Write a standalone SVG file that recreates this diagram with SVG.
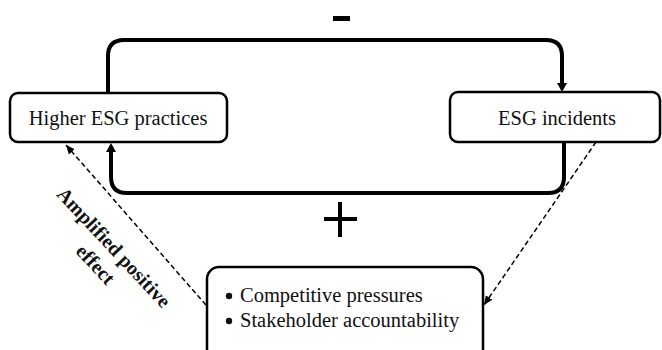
<svg xmlns="http://www.w3.org/2000/svg" width="662" height="350" viewBox="0 0 662 350">
<defs>
<style>
.box{fill:#fff;stroke:#000;stroke-width:2.5}
.loop{fill:none;stroke:#000;stroke-width:4}
.dash{fill:none;stroke:#000;stroke-width:1.5;stroke-dasharray:5 3}
.t{font-family:"Liberation Serif","Times New Roman",serif;font-size:20.5px;fill:#111}
.b{font-family:"Liberation Serif","Times New Roman",serif;font-size:20px;font-weight:bold;fill:#111}
</style>
<marker id="ah" markerWidth="10" markerHeight="10" refX="9" refY="5" orient="auto" markerUnits="userSpaceOnUse">
<path d="M0,1 L9,5 L0,9 Z" fill="#000"/>
</marker>
<marker id="ahs" markerWidth="10" markerHeight="10" refX="9" refY="5" orient="auto" markerUnits="userSpaceOnUse">
<path d="M0,1 L9,5 L0,9 Z" fill="#000"/>
</marker>
</defs>
<rect width="662" height="350" fill="#fff"/>
<g id="connectors">
<path class="loop" d="M108,93 V56 Q108,40 124,40 H546 Q562,40 562,56 V84"/>
<path d="M557,83 L567,83 L562,92 Z" fill="#000"/>
<path class="loop" d="M564,142 V177 Q564,193 548,193 H127 Q111,193 111,177 V151"/>
<path d="M106,152 L116,152 L111,143 Z" fill="#000"/>
<path class="dash" d="M596,142 L484,305" marker-end="url(#ahs)"/>
<path class="dash" d="M206,305 L66,145" marker-end="url(#ah)"/>
</g>
<g id="minus"><rect x="333" y="16" width="17" height="5" fill="#000"/></g>
<g id="plus"><rect x="338" y="202" width="4" height="35" fill="#000"/><rect x="324" y="217" width="33" height="4" fill="#000"/></g>
<g id="higher-esg">
<rect class="box" x="10" y="93" width="217" height="49" rx="8"/>
<text class="t" x="118" y="125" text-anchor="middle">Higher ESG practices</text>
</g>
<g id="esg-incidents">
<rect class="box" x="450" y="92" width="210" height="50" rx="8"/>
<text class="t" x="557" y="125" text-anchor="middle">ESG incidents</text>
</g>
<g id="factors">
<rect class="box" x="207" y="267" width="276" height="95" rx="12"/>
<circle cx="229" cy="296" r="3.2" fill="#111"/>
<text class="t" x="240" y="302">Competitive pressures</text>
<circle cx="229" cy="321" r="3.2" fill="#111"/>
<text class="t" x="240" y="327">Stakeholder accountability</text>
</g>
<g id="label">
<text class="b" transform="translate(109,252) rotate(47)" text-anchor="middle"><tspan x="0" y="0">Amplified positive</tspan><tspan x="0" y="25">effect</tspan></text>
</g>
</svg>
